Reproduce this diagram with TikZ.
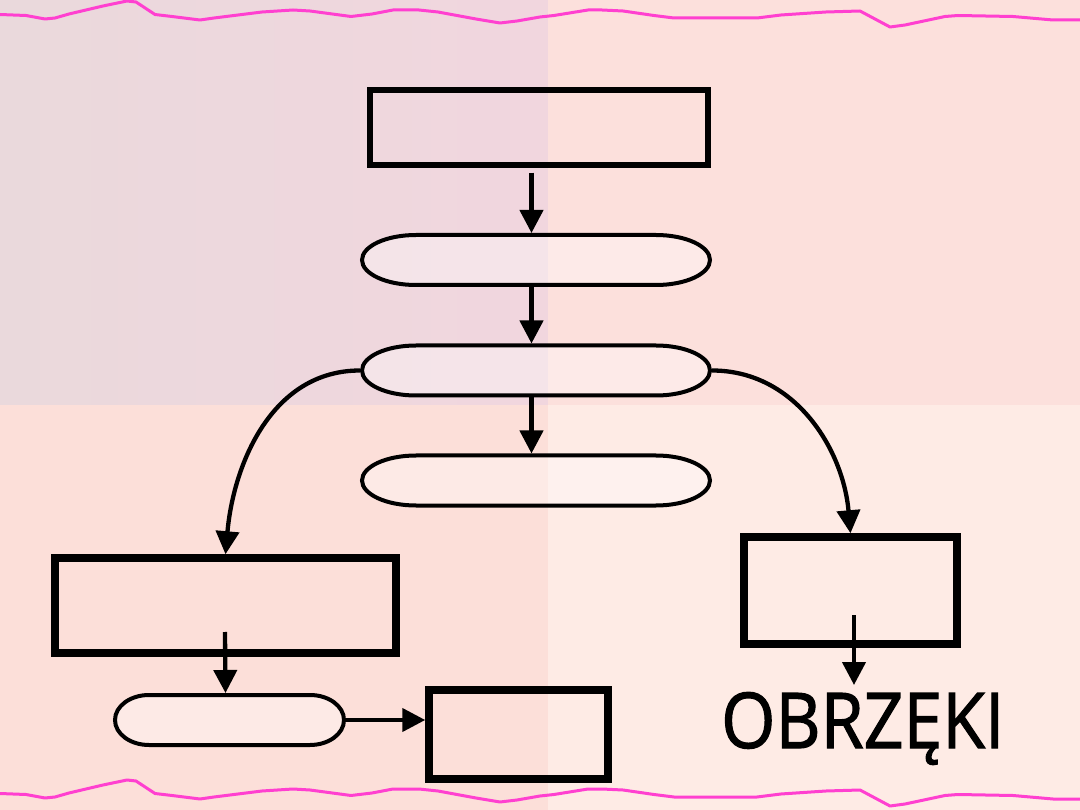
\documentclass[tikz,border=0pt]{standalone}
\usepackage{fontspec}
\usepackage{graphicx}
\newfontfamily\obfont[FakeBold=1.6]{Open Sans}
\usetikzlibrary{arrows.meta}
\definecolor{wave}{RGB}{255,64,208}
\definecolor{bgTLa}{HTML}{EAD9DC}
\definecolor{bgTLb}{HTML}{F1D6DE}
\definecolor{bgTR}{HTML}{FCE0DC}
\definecolor{bgBL}{HTML}{FCDFD9}
\definecolor{bgBR}{HTML}{FEEBE5}
\newcommand\stadshape[3]{%
  \path[stadline] ([xshift=#2pt+2pt,yshift=-2pt]#1.north west) -- ([xshift=-#2pt-2pt,yshift=-2pt]#1.north east)
    arc[start angle=90,end angle=-90,x radius=#2pt,y radius=#3pt]
    -- ([xshift=#2pt+2pt,yshift=2pt]#1.south west)
    arc[start angle=270,end angle=90,x radius=#2pt,y radius=#3pt] -- cycle;}
\begin{document}
\begin{tikzpicture}[x=1pt,y=-1pt,
  box/.style={rectangle, draw=black, line width=7.5pt, inner sep=0pt},
  stadnode/.style={rectangle, inner sep=0pt, outer sep=2pt},
  stadline/.style={draw=black, line width=4pt, fill=white, fill opacity=0.35},
  conn/.style={draw=black, line width=4.3pt, -{Triangle[width=23pt,length=23pt]}},
  wavy/.style={draw=wave, line width=3pt, line join=round, line cap=round}]
\useasboundingbox (0,0) rectangle (1080,810);
% background
\shade[left color=bgTLa, right color=bgTLb] (0,0) rectangle (548,405);
\fill[bgTR] (548,0) rectangle (1080,405);
\fill[bgBL] (0,405) rectangle (548,810);
\fill[bgBR] (548,405) rectangle (1080,810);
% wavy lines
\def\wavepath{(0,14.5) -- (26,15.5) -- (45,19) -- (55,18) -- (69,14) -- (103,6) -- (127,1) -- (136,2) -- (155,14.5) -- (172,16.5) -- (200,20) -- (214,18) -- (262,12) -- (293,10) -- (310,11) -- (351,16.5) -- (372,14) -- (393,10) -- (419,10) -- (438,12) -- (476,19) -- (500,23) -- (517,21) -- (540,17) -- (554,15.5) -- (588,10) -- (602,10) -- (623,11) -- (654,15.5) -- (674,18) -- (757,18) -- (781,15) -- (826,12) -- (860,11) -- (890,27) -- (905,25) -- (945,16.5) -- (958,15.5) -- (1013,16.5) -- (1053,20) -- (1080,20)}
\draw[wavy] \wavepath;
\begin{scope}[yshift=-779pt]
\draw[wavy] \wavepath;
\end{scope}
% nodes
\node[box, line width=5.5pt, minimum width=338pt, minimum height=75pt] (tb) at (539,127.5) {};
\node[stadnode, minimum width=348pt, minimum height=50pt] (s1) at (536,260) {};
\node[stadnode, minimum width=348pt, minimum height=50pt] (s2) at (536,370.5) {};
\node[stadnode, minimum width=348pt, minimum height=50pt] (s3) at (536,480.5) {};
\node[box, minimum width=341pt, minimum height=95pt] (lb) at (225.5,605.5) {};
\node[stadnode, minimum width=229pt, minimum height=50pt] (s4) at (229.5,720) {};
\node[box, minimum width=179pt, minimum height=89pt] (bb) at (518.5,734.5) {};
\node[box, minimum width=213pt, minimum height=107pt] (rb) at (850.5,590.5) {};
\node[anchor=base west, inner sep=0pt, font=\obfont\fontsize{77pt}{80pt}\selectfont] (ob) at (721,748) {\scalebox{0.905}[1]{OBRZĘKI}};
\coordinate (obtop) at (854,685);
\stadshape{s1}{54}{25}
\stadshape{s2}{54}{25}
\stadshape{s3}{54}{25}
\stadshape{s4}{34}{25}
% connectors
\draw[conn] ([xshift=-7.5pt,yshift=-5pt]tb.south) -- ([xshift=-4.5pt]s1.north);
\draw[conn] ([xshift=-4.5pt]s1.south) -- ([xshift=-4.5pt]s2.north);
\draw[conn] ([xshift=-4.5pt]s2.south) -- ([xshift=-4.5pt]s3.north);
\draw[conn] (s2.west) to[out=180,in=85] (lb.north);
\draw[conn] (s2.east) to[out=0,in=95] (rb.north);
\draw[conn] ([xshift=-0.5pt,yshift=-26.5pt]lb.center) -- ([xshift=-4pt]s4.north);
\draw[conn] (s4.east) -- (s4.east -| bb.west);
\draw[conn] ([xshift=3.5pt,yshift=-24.5pt]rb.center) -- (obtop);
\end{tikzpicture}
\end{document}
